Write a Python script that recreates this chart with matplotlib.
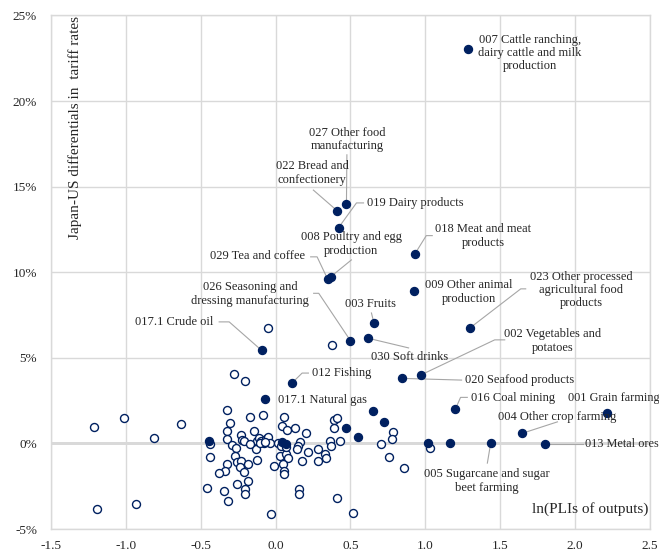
import matplotlib
matplotlib.use('Agg')
import matplotlib.pyplot as plt

plt.rcParams['font.family'] = ['Liberation Serif', 'DejaVu Serif']
plt.rcParams['axes.unicode_minus'] = False

navy = '#002060'
grey = '#d9d9d9'
lead = '#a6a6a6'

# unlabelled sectors (open circles)
open_x = [-1.215, -1.014, -0.813, -0.629, -1.19, -0.932,
          -0.051, -0.278, -0.203, 0.377,
          -0.327, -0.174, -0.084, -0.305, -0.145, -0.323, -0.231, -0.325, -0.223, -0.290, -0.265, -0.211, -0.437,
          -0.125, -0.114, -0.096, -0.08, -0.064, -0.05, -0.04, -0.129, -0.17, -0.105, -0.07,
          0.013, 0.054, 0.045, 0.127, 0.076, 0.20, 0.165, 0.152, 0.143, 0.214, 0.027, 0.07, 0.08, 0.179, 0.05,
          -0.011, 0.054, 0.054, 0.155, 0.155, 0.28, 0.28, 0.33, 0.339, 0.361, 0.368, 0.428, 0.038, 0.067,
          0.39, 0.41, 0.393, 0.787, 0.776, 0.706, 1.033, 0.754, 0.859, 0.413, 0.518,
          -0.439, -0.274, -0.256, -0.229, -0.186, -0.327, -0.239, -0.34, -0.377, -0.214, -0.127, -0.185,
          -0.455, -0.342, -0.260, -0.205, -0.202, -0.318, -0.031]
open_y = [0.97, 1.50, 0.33, 1.13, -3.82, -3.55,
          6.74, 4.03, 3.66, 5.73,
          1.93, 1.52, 1.67, 1.19, 0.70, 0.71, 0.47, 0.24, 0.19, -0.08, -0.24, 0.13, -0.02,
          0.13, 0.29, 0.13, 0.0, 0.23, 0.37, 0.04, -0.35, -0.05, 0.05, 0.1,
          0.0, 1.56, 1.03, 0.92, 0.76, 0.61, 0.06, -0.16, -0.32, -0.51, -0.74, -0.63, -0.85, -1.02, -1.20,
          -1.34, -1.62, -1.78, -2.65, -2.94, -0.30, -1.03, -0.62, -0.88, 0.17, -0.15, 0.15, -0.16, -0.23,
          1.38, 1.46, 0.91, 0.68, 0.23, -0.04, -0.26, -0.77, -1.46, -3.16, -4.06,
          -0.80, -0.74, -1.10, -1.03, -1.23, -1.21, -1.37, -1.60, -1.72, -1.69, -0.96, -2.21,
          -2.63, -2.76, -2.38, -2.69, -2.93, -3.37, -4.10]

# unlabelled filled sectors
fill_x = [1.02, 1.166, 0.647, 0.727, 0.468, 0.549, -0.448, 0.045, 0.071]
fill_y = [0.0, 0.0, 1.89, 1.23, 0.91, 0.39, 0.13, 0.06, -0.02]

# labelled sectors
lab_text = ['007 Cattle ranching,\ndairy cattle and milk\nproduction',
            '027 Other food\nmanufacturing',
            '022 Bread and\nconfectionery',
            '019 Dairy products',
            '018 Meat and meat\nproducts',
            '008 Poultry and egg\nproduction',
            '029 Tea and coffee',
            '009 Other animal\nproduction',
            '003 Fruits',
            '026 Seasoning and\ndressing manufacturing',
            '030 Soft drinks',
            '023 Other processed\nagricultural food\nproducts',
            '017.1 Crude oil',
            '002 Vegetables and\npotatoes',
            '020 Seafood products',
            '012 Fishing',
            '017.1 Natural gas',
            '016 Coal mining',
            '001 Grain farming',
            '004 Other crop farming',
            '005 Sugarcane and sugar\nbeet farming',
            '013 Metal ores']
lab_x = [1.284, 0.473, 0.41, 0.42, 0.93, 0.37, 0.348, 0.924, 0.656, 0.50, 0.62,
         1.30, -0.094, 0.97, 0.845, 0.112, -0.07, 1.20, 2.214, 1.643, 1.436, 1.80]
lab_y = [23.06, 14.0, 13.6, 12.6, 11.07, 9.75, 9.59, 8.89, 7.05, 6.0, 6.14,
         6.76, 5.44, 4.0, 3.80, 3.55, 2.59, 1.99, 1.75, 0.58, 0.0, -0.04]

# text placement: (x, y, ha) and leader-line bend points
txt_pos = [(1.70, 22.8, 'center'), (0.476, 17.77, 'center'), (0.245, 15.8, 'center'),
           (0.611, 14.05, 'left'), (1.387, 12.12, 'center'), (0.506, 11.65, 'center'),
           (0.198, 10.95, 'right'), (1.288, 8.85, 'center'), (0.633, 8.15, 'center'),
           (-0.169, 8.73, 'center'), (0.894, 5.05, 'center'), (2.04, 8.97, 'center'),
           (-0.415, 7.11, 'right'), (1.851, 5.99, 'center'), (1.262, 3.70, 'left'),
           (0.245, 4.11, 'left'), (0.018, 2.53, 'left'), (1.302, 2.67, 'left'),
           (1.955, 2.67, 'left'), (1.488, 1.56, 'left'), (1.409, -2.20, 'center'),
           (2.065, -0.04, 'left')]
leaders = [None,
           [(0.476, 16.86)],
           [(0.252, 14.8)],
           [(0.587, 14.05), (0.54, 14.05)],
           [(1.046, 12.14), (1.006, 12.14)],
           [(0.506, 10.72)],
           [(0.234, 10.9), (0.277, 10.9)],
           None,
           [(0.64, 7.62)],
           [(0.254, 8.77), (0.288, 8.77)],
           [(0.888, 5.58)],
           [(1.670, 9.03), (1.637, 9.03)],
           [(-0.377, 7.1), (-0.31, 7.1)],
           [(1.530, 6.05), (1.463, 6.05)],
           [(1.242, 3.70)],
           [(0.219, 4.11), (0.177, 4.11)],
           None,
           [(1.28, 2.69), (1.235, 2.69)],
           None,
           [(1.882, 1.26)],
           [(1.414, -1.15)],
           [(2.05, -0.04)]]

fig = plt.figure(figsize=(6.59, 5.51), dpi=100)
ax = fig.add_axes([0.0774, 0.0399, 0.9089, 0.932])

ax.set_xlim(-1.5, 2.5)
ax.set_ylim(-5, 25)
ax.set_xticks([-1.5, -1.0, -0.5, 0.0, 0.5, 1.0, 1.5, 2.0, 2.5])
ax.set_yticks([-5, 0, 5, 10, 15, 20, 25])
ax.set_xticklabels(['%.1f' % v for v in ax.get_xticks()])
ax.set_yticklabels(['%d%%' % v for v in ax.get_yticks()])
ax.tick_params(length=0, labelsize=9.5, colors='#262626')
ax.tick_params(axis='y', pad=10)
ax.tick_params(axis='x', pad=8)
ax.grid(True, color=grey, lw=1.0, zorder=0)
ax.axhline(0, color='#cfcfcf', lw=1.8, zorder=1)
for s in ax.spines.values():
    s.set_color(grey)
    s.set_linewidth(1.0)

ax.scatter(open_x, open_y, s=33, facecolor='white', edgecolor=navy, lw=1.0, zorder=3)
ax.scatter(fill_x, fill_y, s=33, facecolor=navy, edgecolor=navy, lw=1.0, zorder=4)
ax.scatter(lab_x, lab_y, s=33, facecolor=navy, edgecolor=navy, lw=1.0, zorder=4)

for i in range(len(lab_text)):
    tx, ty, ha = txt_pos[i]
    fs = 8.8 if tx > 1.9 and ha == 'left' else 9
    ax.text(tx, ty, lab_text[i], ha=ha, va='center', fontsize=fs, color='#262626',
            linespacing=1.15, multialignment='center', zorder=5)
    if leaders[i] is not None:
        xs = [p[0] for p in leaders[i]] + [lab_x[i]]
        ys = [p[1] for p in leaders[i]] + [lab_y[i]]
        ax.plot(xs, ys, color=lead, lw=0.8, zorder=2)

ax.text(0.04, 0.999, 'Japan-US differentials in  tariff rates', transform=ax.transAxes,
        rotation=90, ha='center', va='top', fontsize=11, color='#262626')
ax.text(0.998, 0.025, 'ln(PLIs of outputs)', transform=ax.transAxes,
        ha='right', va='bottom', fontsize=11, color='#262626')

fig.savefig('out.png', dpi=100)
